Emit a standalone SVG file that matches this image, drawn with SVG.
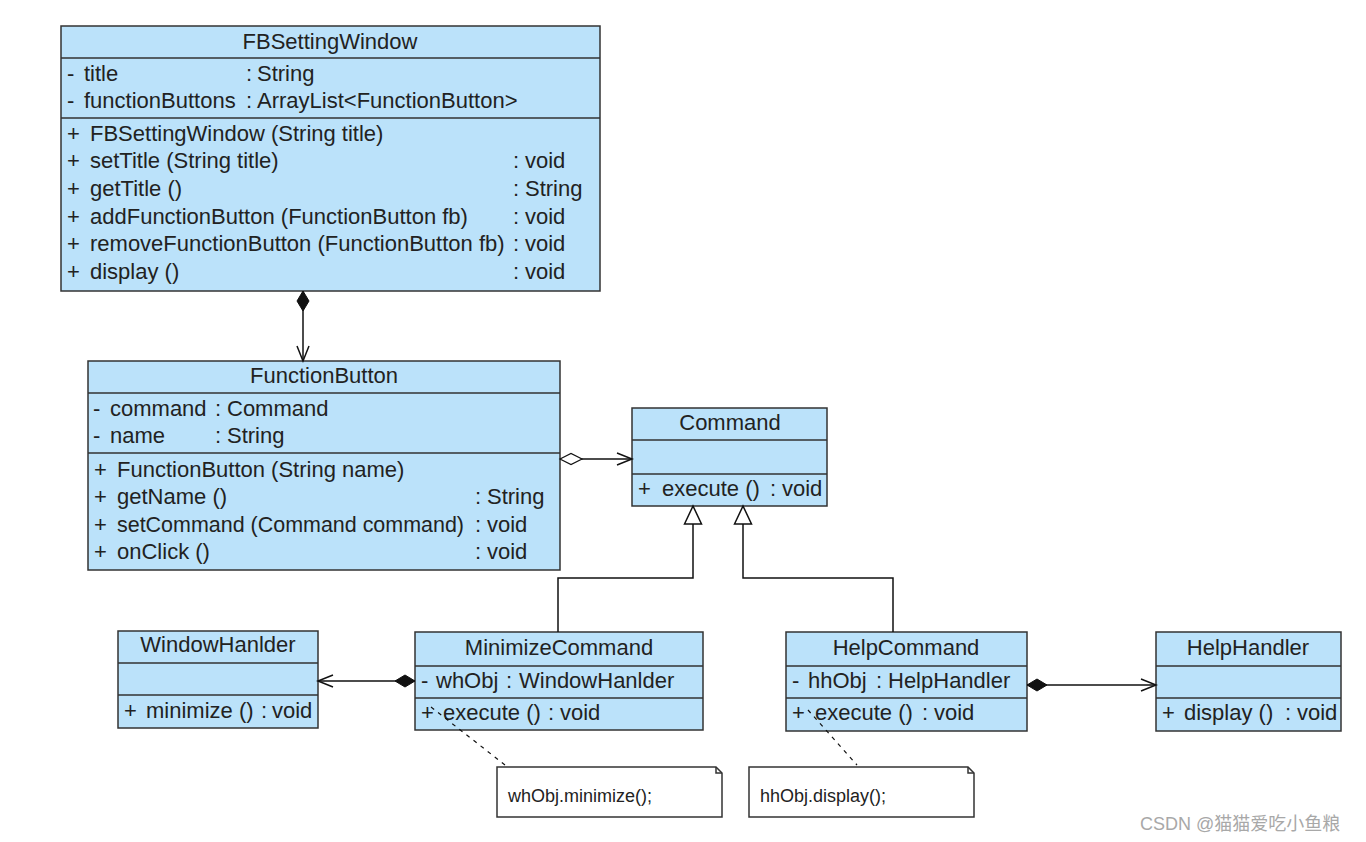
<svg xmlns="http://www.w3.org/2000/svg" width="1366" height="842" viewBox="0 0 1366 842">
<style>
  .box { fill: #bbe2fa; stroke: #333; stroke-width: 1.5; }
  .div { stroke: #333; stroke-width: 1.5; fill: none; }
  .t { font-family: "Liberation Sans", Arial, sans-serif; font-size: 22px; fill: #222; }
  .c { text-anchor: middle; }
  .conn { stroke: #111; stroke-width: 1.5; fill: none; }
  .dash { stroke: #111; stroke-width: 1.2; fill: none; stroke-dasharray: 4 5; }
  .note { fill: #fff; stroke: #333; stroke-width: 1.5; }
  .nt { font-family: "Liberation Sans", Arial, sans-serif; font-size: 18px; fill: #222; }
  .wm { font-family: "Liberation Sans", Arial, "Noto Sans CJK SC", sans-serif; font-size: 18px; fill: #a8a8a8; }
</style>
<defs>
  <marker id="open" markerUnits="userSpaceOnUse" markerWidth="18" markerHeight="14" refX="15" refY="6" orient="auto" overflow="visible">
    <path d="M0,0 L15,6 L0,12" fill="none" stroke="#111" stroke-width="1.5"/>
  </marker>
  <marker id="dfill" markerUnits="userSpaceOnUse" markerWidth="24" markerHeight="14" refX="0" refY="6" orient="auto" overflow="visible">
    <path d="M0,6 L10,0 L20,6 L10,12 Z" fill="#111" stroke="#111" stroke-width="1"/>
  </marker>
  <marker id="dopen" markerUnits="userSpaceOnUse" markerWidth="24" markerHeight="14" refX="0" refY="6" orient="auto" overflow="visible">
    <path d="M0,6 L11,0.5 L22,6 L11,11.5 Z" fill="#fff" stroke="#111" stroke-width="1.2"/>
  </marker>
  <marker id="tri" markerUnits="userSpaceOnUse" markerWidth="20" markerHeight="20" refX="18" refY="8.5" orient="auto" overflow="visible">
    <path d="M0,0 L18,8.5 L0,17 Z" fill="#fff" stroke="#111" stroke-width="1.5"/>
  </marker>
</defs>

<g id="FBSettingWindow">
  <rect class="box" x="61" y="26" width="539" height="265"/>
  <path class="div" d="M61,58 H600 M61,118 H600"/>
  <text class="t c" x="330" y="49">FBSettingWindow</text>
  <text class="t" y="81"><tspan x="67">-</tspan><tspan x="84">title</tspan><tspan x="246">:</tspan><tspan x="257">String</tspan></text>
  <text class="t" y="108"><tspan x="67">-</tspan><tspan x="84">functionButtons</tspan><tspan x="246">:</tspan><tspan x="257">ArrayList&lt;FunctionButton&gt;</tspan></text>
  <text class="t" y="141"><tspan x="67">+</tspan><tspan x="90">FBSettingWindow (String title)</tspan></text>
  <text class="t" y="168"><tspan x="67">+</tspan><tspan x="90">setTitle (String title)</tspan><tspan x="513">:</tspan><tspan x="525">void</tspan></text>
  <text class="t" y="196"><tspan x="67">+</tspan><tspan x="90">getTitle ()</tspan><tspan x="513">:</tspan><tspan x="525">String</tspan></text>
  <text class="t" y="224"><tspan x="67">+</tspan><tspan x="90">addFunctionButton (FunctionButton fb)</tspan><tspan x="513">:</tspan><tspan x="525">void</tspan></text>
  <text class="t" y="251"><tspan x="67">+</tspan><tspan x="90">removeFunctionButton (FunctionButton fb)</tspan><tspan x="513">:</tspan><tspan x="525">void</tspan></text>
  <text class="t" y="279"><tspan x="67">+</tspan><tspan x="90">display ()</tspan><tspan x="513">:</tspan><tspan x="525">void</tspan></text>
</g>

<g id="FunctionButton">
  <rect class="box" x="88" y="361" width="472" height="209"/>
  <path class="div" d="M88,393 H560 M88,453 H560"/>
  <text class="t c" x="324" y="383">FunctionButton</text>
  <text class="t" y="416"><tspan x="93">-</tspan><tspan x="110">command</tspan><tspan x="215">:</tspan><tspan x="227">Command</tspan></text>
  <text class="t" y="443"><tspan x="93">-</tspan><tspan x="110">name</tspan><tspan x="215">:</tspan><tspan x="227">String</tspan></text>
  <text class="t" y="477"><tspan x="94">+</tspan><tspan x="117">FunctionButton (String name)</tspan></text>
  <text class="t" y="504"><tspan x="94">+</tspan><tspan x="117">getName ()</tspan><tspan x="475">:</tspan><tspan x="487">String</tspan></text>
  <text class="t" y="532"><tspan x="94">+</tspan><tspan x="117" textLength="347" lengthAdjust="spacingAndGlyphs">setCommand (Command command)</tspan><tspan x="475">:</tspan><tspan x="487">void</tspan></text>
  <text class="t" y="559"><tspan x="94">+</tspan><tspan x="117">onClick ()</tspan><tspan x="475">:</tspan><tspan x="487">void</tspan></text>
</g>

<g id="Command">
  <rect class="box" x="632" y="408" width="195" height="98"/>
  <path class="div" d="M632,440 H827 M632,474 H827"/>
  <text class="t c" x="730" y="430">Command</text>
  <text class="t" y="496"><tspan x="638">+</tspan><tspan x="662">execute ()</tspan><tspan x="770">:</tspan><tspan x="782">void</tspan></text>
</g>

<g id="WindowHanlder">
  <rect class="box" x="118" y="631" width="200" height="97"/>
  <path class="div" d="M118,663 H318 M118,695 H318"/>
  <text class="t c" x="218" y="652">WindowHanlder</text>
  <text class="t" y="718"><tspan x="124">+</tspan><tspan x="146">minimize ()</tspan><tspan x="261">:</tspan><tspan x="272">void</tspan></text>
</g>

<g id="MinimizeCommand">
  <rect class="box" x="415" y="632" width="288" height="98"/>
  <path class="div" d="M415,666 H703 M415,698 H703"/>
  <text class="t c" x="559" y="655">MinimizeCommand</text>
  <text class="t" y="688"><tspan x="421">-</tspan><tspan x="436">whObj</tspan><tspan x="506">:</tspan><tspan x="519">WindowHanlder</tspan></text>
  <text class="t" y="720"><tspan x="421">+</tspan><tspan x="443">execute ()</tspan><tspan x="548">:</tspan><tspan x="560">void</tspan></text>
</g>

<g id="HelpCommand">
  <rect class="box" x="786" y="632" width="241" height="99"/>
  <path class="div" d="M786,666 H1027 M786,698 H1027"/>
  <text class="t c" x="906" y="655">HelpCommand</text>
  <text class="t" y="688"><tspan x="792">-</tspan><tspan x="808">hhObj</tspan><tspan x="876">:</tspan><tspan x="888">HelpHandler</tspan></text>
  <text class="t" y="720"><tspan x="792">+</tspan><tspan x="815">execute ()</tspan><tspan x="922">:</tspan><tspan x="934">void</tspan></text>
</g>

<g id="HelpHandler">
  <rect class="box" x="1156" y="632" width="185" height="99"/>
  <path class="div" d="M1156,666 H1341 M1156,698 H1341"/>
  <text class="t c" x="1248" y="655">HelpHandler</text>
  <text class="t" y="720"><tspan x="1162">+</tspan><tspan x="1184">display ()</tspan><tspan x="1285">:</tspan><tspan x="1297">void</tspan></text>
</g>

<g id="note-minimize">
  <path class="note" d="M497,767 H716 L722,773 V817 H497 Z"/>
  <path class="div" d="M716,767 V773 H722"/>
  <text class="nt" x="508" y="802">whObj.minimize();</text>
</g>

<g id="note-display">
  <path class="note" d="M749,767 H968 L974,773 V817 H749 Z"/>
  <path class="div" d="M968,767 V773 H974"/>
  <text class="nt" x="760" y="802">hhObj.display();</text>
</g>

<g id="connectors">
  <path class="conn" d="M303,291 L303,361" marker-start="url(#dfill)" marker-end="url(#open)"/>
  <path class="conn" d="M560,459 L632,459" marker-start="url(#dopen)" marker-end="url(#open)"/>
  <path class="conn" d="M558,632 L558,578 L693,578 L693,506" marker-end="url(#tri)"/>
  <path class="conn" d="M893,632 L893,578 L743,578 L743,506" marker-end="url(#tri)"/>
  <path class="conn" d="M415,681 L318,681" marker-start="url(#dfill)" marker-end="url(#open)"/>
  <path class="conn" d="M1027,685 L1156,685" marker-start="url(#dfill)" marker-end="url(#open)"/>
  <path class="dash" d="M431,707 L505,765"/>
  <path class="dash" d="M808,710 L857,765"/>
</g>

<text class="wm" x="1140" y="830">CSDN @猫猫爱吃小鱼粮</text>
</svg>
